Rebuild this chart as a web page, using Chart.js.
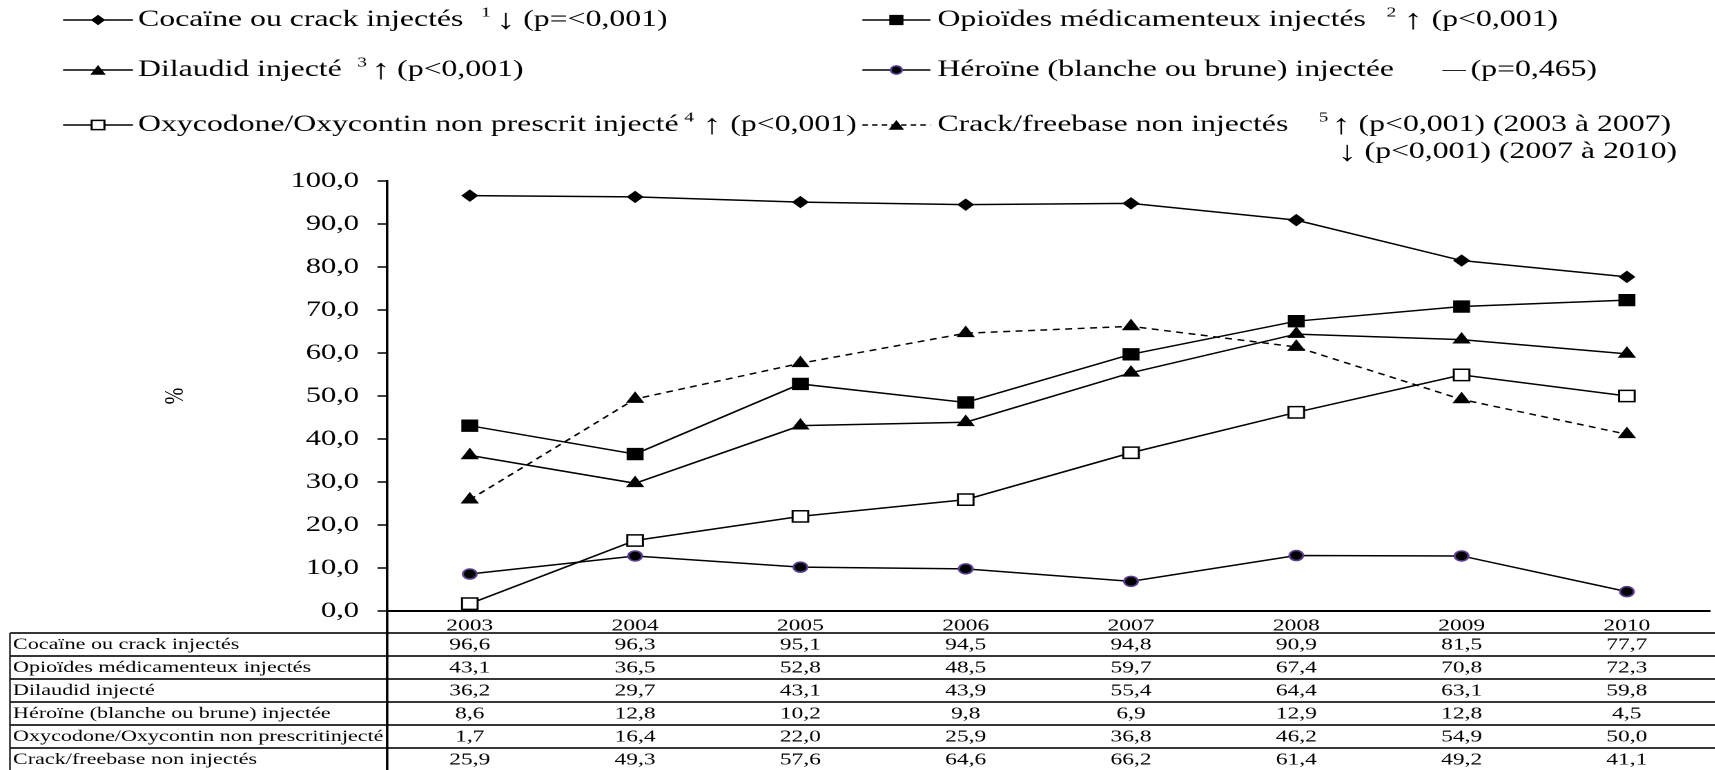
<!DOCTYPE html>
<html><head><meta charset="utf-8">
<script src="https://cdn.jsdelivr.net/npm/chart.js@4"></script>
<style>
html,body{margin:0;padding:0;background:#fff;overflow:hidden;width:1715px;height:770px;}
#wrap{position:absolute;left:0;top:0;height:770px;transform-origin:0 0;}
</style></head><body>
<div id="wrap"><canvas id="c"></canvas></div>
<script>
// ---- data ----
const years = ['2003','2004','2005','2006','2007','2008','2009','2010'];
const cocaine   = [96.6, 96.3, 95.1, 94.5, 94.8, 90.9, 81.5, 77.7];
const opioides  = [43.1, 36.5, 52.8, 48.5, 59.7, 67.4, 70.8, 72.3];
const dilaudid  = [36.2, 29.7, 43.1, 43.9, 55.4, 64.4, 63.1, 59.8];
const heroine   = [8.6, 12.8, 10.2, 9.8, 6.9, 12.9, 12.8, 4.5];
const oxycodone = [1.7, 16.4, 22.0, 25.9, 36.8, 46.2, 54.9, 50.0];
const crack     = [25.9, 49.3, 57.6, 64.6, 66.2, 61.4, 49.2, 41.1];
const seriesNames = ['Cocaïne ou crack injectés','Opioïdes médicamenteux injectés','Dilaudid injecté',
  'Héroïne (blanche ou brune) injectée','Oxycodone/Oxycontin non prescrit injecté','Crack/freebase non injectés'];
const tableNames = ['Cocaïne ou crack injectés','Opioïdes médicamenteux injectés','Dilaudid injecté',
  'Héroïne (blanche ou brune) injectée','Oxycodone/Oxycontin non prescritinjecté','Crack/freebase non injectés'];
const noteRefs   = ['1','2','3','','4','5'];
const noteSigns  = ['↓','↑','↑','—','↑','↑'];
const noteTexts  = ['(p=<0,001)','(p<0,001)','(p<0,001)','(p=0,465)','(p<0,001)','(p<0,001) (2003 à 2007)'];
const crackSign2 = '↓';
const crackNote2 = '(p<0,001) (2007 à 2010)';
const yAxisTitle = '%';
const yMin = 0, yMax = 100, yStep = 10;

// ---- layout (full-picture pixels) ----
const S = 1.38;              // horizontal stretch of the original picture
const FULLW = 1722;
const W = FULLW / S;
const X = v => v / S;
const wrap = document.getElementById('wrap');
wrap.style.width = W + 'px';
wrap.style.transform = 'scaleX(' + S + ')';

const SERIF = '"Liberation Serif", "Times New Roman", serif';
const fmt = v => v.toFixed(1).replace('.', ',');

const styles = [
  {pointStyle:'rectRot', radius:5.5, bg:'#000', bc:'#000', bw:1, dash:[]},
  {pointStyle:'rect', radius:8, bg:'#000', bc:'#000', bw:1, dash:[]},
  {pointStyle:'triangle', radius:6.7, bg:'#000', bc:'#000', bw:1, dash:[]},
  {pointStyle:'circle', radius:5, bg:'#000', bc:'#5b3f8f', bw:1.5, dash:[]},
  {pointStyle:'rect', radius:8, bg:'#fff', bc:'#000', bw:1.5, dash:[]},
  {pointStyle:'triangle', radius:6.7, bg:'#000', bc:'#000', bw:1, dash:[5,4]},
];
const seriesData = [cocaine, opioides, dilaudid, heroine, oxycodone, crack];

const datasets = seriesData.map((d, i) => ({
  label: seriesNames[i], data: d,
  borderColor:'#000', borderWidth:1.5, borderDash: styles[i].dash,
  pointStyle: styles[i].pointStyle, pointRadius: styles[i].radius, pointHoverRadius: styles[i].radius,
  pointBackgroundColor: styles[i].bg, pointBorderColor: styles[i].bc, pointBorderWidth: styles[i].bw,
  tension: 0, fill:false
}));

function drawMarker(ctx, st, x, y, r) {
  ctx.save();
  ctx.setLineDash([]);
  ctx.fillStyle = st.bg; ctx.strokeStyle = st.bc; ctx.lineWidth = st.bw;
  ctx.beginPath();
  if (st.pointStyle === 'circle') { ctx.arc(x, y, r, 0, Math.PI*2); }
  else if (st.pointStyle === 'rect') { const h = r*Math.SQRT1_2; ctx.rect(x-h, y-h, 2*h, 2*h); }
  else if (st.pointStyle === 'rectRot') { ctx.moveTo(x-r,y); ctx.lineTo(x,y-r); ctx.lineTo(x+r,y); ctx.lineTo(x,y+r); ctx.closePath(); }
  else if (st.pointStyle === 'triangle') {
    ctx.moveTo(x, y-r); ctx.lineTo(x + r*Math.sin(2*Math.PI/3), y - r*Math.cos(2*Math.PI/3));
    ctx.lineTo(x + r*Math.sin(4*Math.PI/3), y - r*Math.cos(4*Math.PI/3)); ctx.closePath();
  }
  ctx.fill(); ctx.stroke();
  ctx.restore();
}

const legendRowsY = [20, 70, 125];
const legendLine2Y = 152;
const legendCols = [{l0:63, l1:133, tx:138}, {l0:862, l1:930, tx:937}];
// sup: superscript x, sign: arrow/dash x, note: text x
const legendPos = [
  {row:0,col:0,sup:481,sign:496,note:523},
  {row:0,col:1,sup:1386,sign:1403,note:1431},
  {row:1,col:0,sup:357,sign:371,note:397},
  {row:1,col:1,sup:null,sign:1442,note:1470},
  {row:2,col:0,sup:684,sign:702,note:730},
  {row:2,col:1,sup:1318,sign:1331,note:1358,sign2:1337,note2:1364},
];

function drawSign(ctx, ch, x, y) {
  if (ch === '—') { ctx.font = '17px ' + SERIF; ctx.fillText(ch, x, y); }
  else { ctx.font = '28px ' + SERIF; ctx.fillText(ch, x, y + 1); }
}

const legendPlugin = {
  id:'customLegend',
  afterDraw(chart) {
    const ctx = chart.ctx;
    ctx.save();
    ctx.fillStyle = '#000';
    ctx.textBaseline = 'middle';
    ctx.textAlign = 'left';
    legendPos.forEach((p, i) => {
      const col = legendCols[p.col];
      const y = legendRowsY[p.row];
      const st = styles[i];
      ctx.strokeStyle = '#000'; ctx.lineWidth = 1.5;
      ctx.setLineDash(st.dash.length ? [4,3] : []);
      ctx.beginPath(); ctx.moveTo(X(col.l0), y); ctx.lineTo(X(col.l1), y); ctx.stroke();
      ctx.setLineDash([]);
      drawMarker(ctx, st, X((col.l0+col.l1)/2), y + (st.pointStyle==='triangle'?1.5:0), st.radius*0.82);
      ctx.fillStyle = '#000';
      ctx.font = '23px ' + SERIF;
      ctx.fillText(datasets[i].label, X(col.tx), y);
      if (p.sup !== null && noteRefs[i]) {
        ctx.font = '14px ' + SERIF;
        ctx.fillText(noteRefs[i], X(p.sup), y - 7);
      }
      drawSign(ctx, noteSigns[i], X(p.sign), y);
      ctx.font = '23px ' + SERIF;
      ctx.fillText(noteTexts[i], X(p.note), y);
      if (p.note2) {
        drawSign(ctx, crackSign2, X(p.sign2), legendLine2Y);
        ctx.font = '23px ' + SERIF;
        ctx.fillText(crackNote2, X(p.note2), legendLine2Y);
      }
    });
    ctx.restore();
  }
};

const tableTop = 633, rowH = 23, tableLeft = 10, yearY = 626;
const tablePlugin = {
  id:'dataTable',
  afterDraw(chart) {
    const ctx = chart.ctx, xs = chart.scales.x, area = chart.chartArea;
    const tableEnd = 772;
    ctx.save();
    ctx.strokeStyle = '#1a1a1a'; ctx.lineWidth = 1.8; ctx.setLineDash([]);
    for (let r = 0; r < seriesData.length; r++) {
      const y = tableTop + r*rowH;
      ctx.beginPath(); ctx.moveTo(X(tableLeft), y); ctx.lineTo(W, y); ctx.stroke();
    }
    ctx.lineWidth = 1.2;
    ctx.beginPath(); ctx.moveTo(X(tableLeft), tableTop); ctx.lineTo(X(tableLeft), tableEnd); ctx.stroke();
    ctx.lineWidth = 1.8; ctx.strokeStyle = '#000';
    ctx.beginPath(); ctx.moveTo(area.left, area.bottom); ctx.lineTo(area.left, tableEnd); ctx.stroke();
    ctx.fillStyle = '#000';
    ctx.textBaseline = 'middle';
    ctx.textAlign = 'center';
    ctx.font = '17px ' + SERIF;
    years.forEach((yr, j) => ctx.fillText(yr, xs.getPixelForValue(j), yearY));
    seriesData.forEach((d, r) => {
      const cy = tableTop + r*rowH + rowH/2 + 0.5;
      ctx.textAlign = 'left'; ctx.font = '16px ' + SERIF;
      ctx.fillText(tableNames[r], X(13), cy);
      ctx.textAlign = 'center'; ctx.font = '17px ' + SERIF;
      d.forEach((v, j) => ctx.fillText(fmt(v), xs.getPixelForValue(j), cy));
    });
    ctx.restore();
  }
};

new Chart(document.getElementById('c'), {
  type:'line',
  data:{ labels: years, datasets },
  options:{
    responsive:true, maintainAspectRatio:false, animation:false, devicePixelRatio:2,
    layout:{ padding:{ top:181, bottom:159, left:0, right:0 } },
    plugins:{ legend:{display:false}, tooltip:{enabled:false} },
    scales:{
      x:{
        type:'category', offset:true,
        grid:{display:false}, ticks:{display:false},
        border:{display:true, color:'#000', width:2},
        afterFit(scale){ scale.height = 0; }
      },
      y:{
        min:yMin, max:yMax,
        ticks:{ stepSize:yStep, color:'#000', padding:13.4,
          font:{family:SERIF, size:22}, callback:(v)=>fmt(v) },
        grid:{ display:true, drawOnChartArea:false, drawTicks:true, tickLength:7, tickColor:'#000', tickWidth:1.5 },
        border:{display:true, color:'#000', width:1.8},
        title:{ display:true, text:yAxisTitle, color:'#000', font:{family:SERIF, size:20}, padding:{top:115, bottom:0} },
        afterFit(scale){ scale.width = X(387); }
      }
    }
  },
  plugins:[legendPlugin, tablePlugin]
});
</script>
</body></html>
